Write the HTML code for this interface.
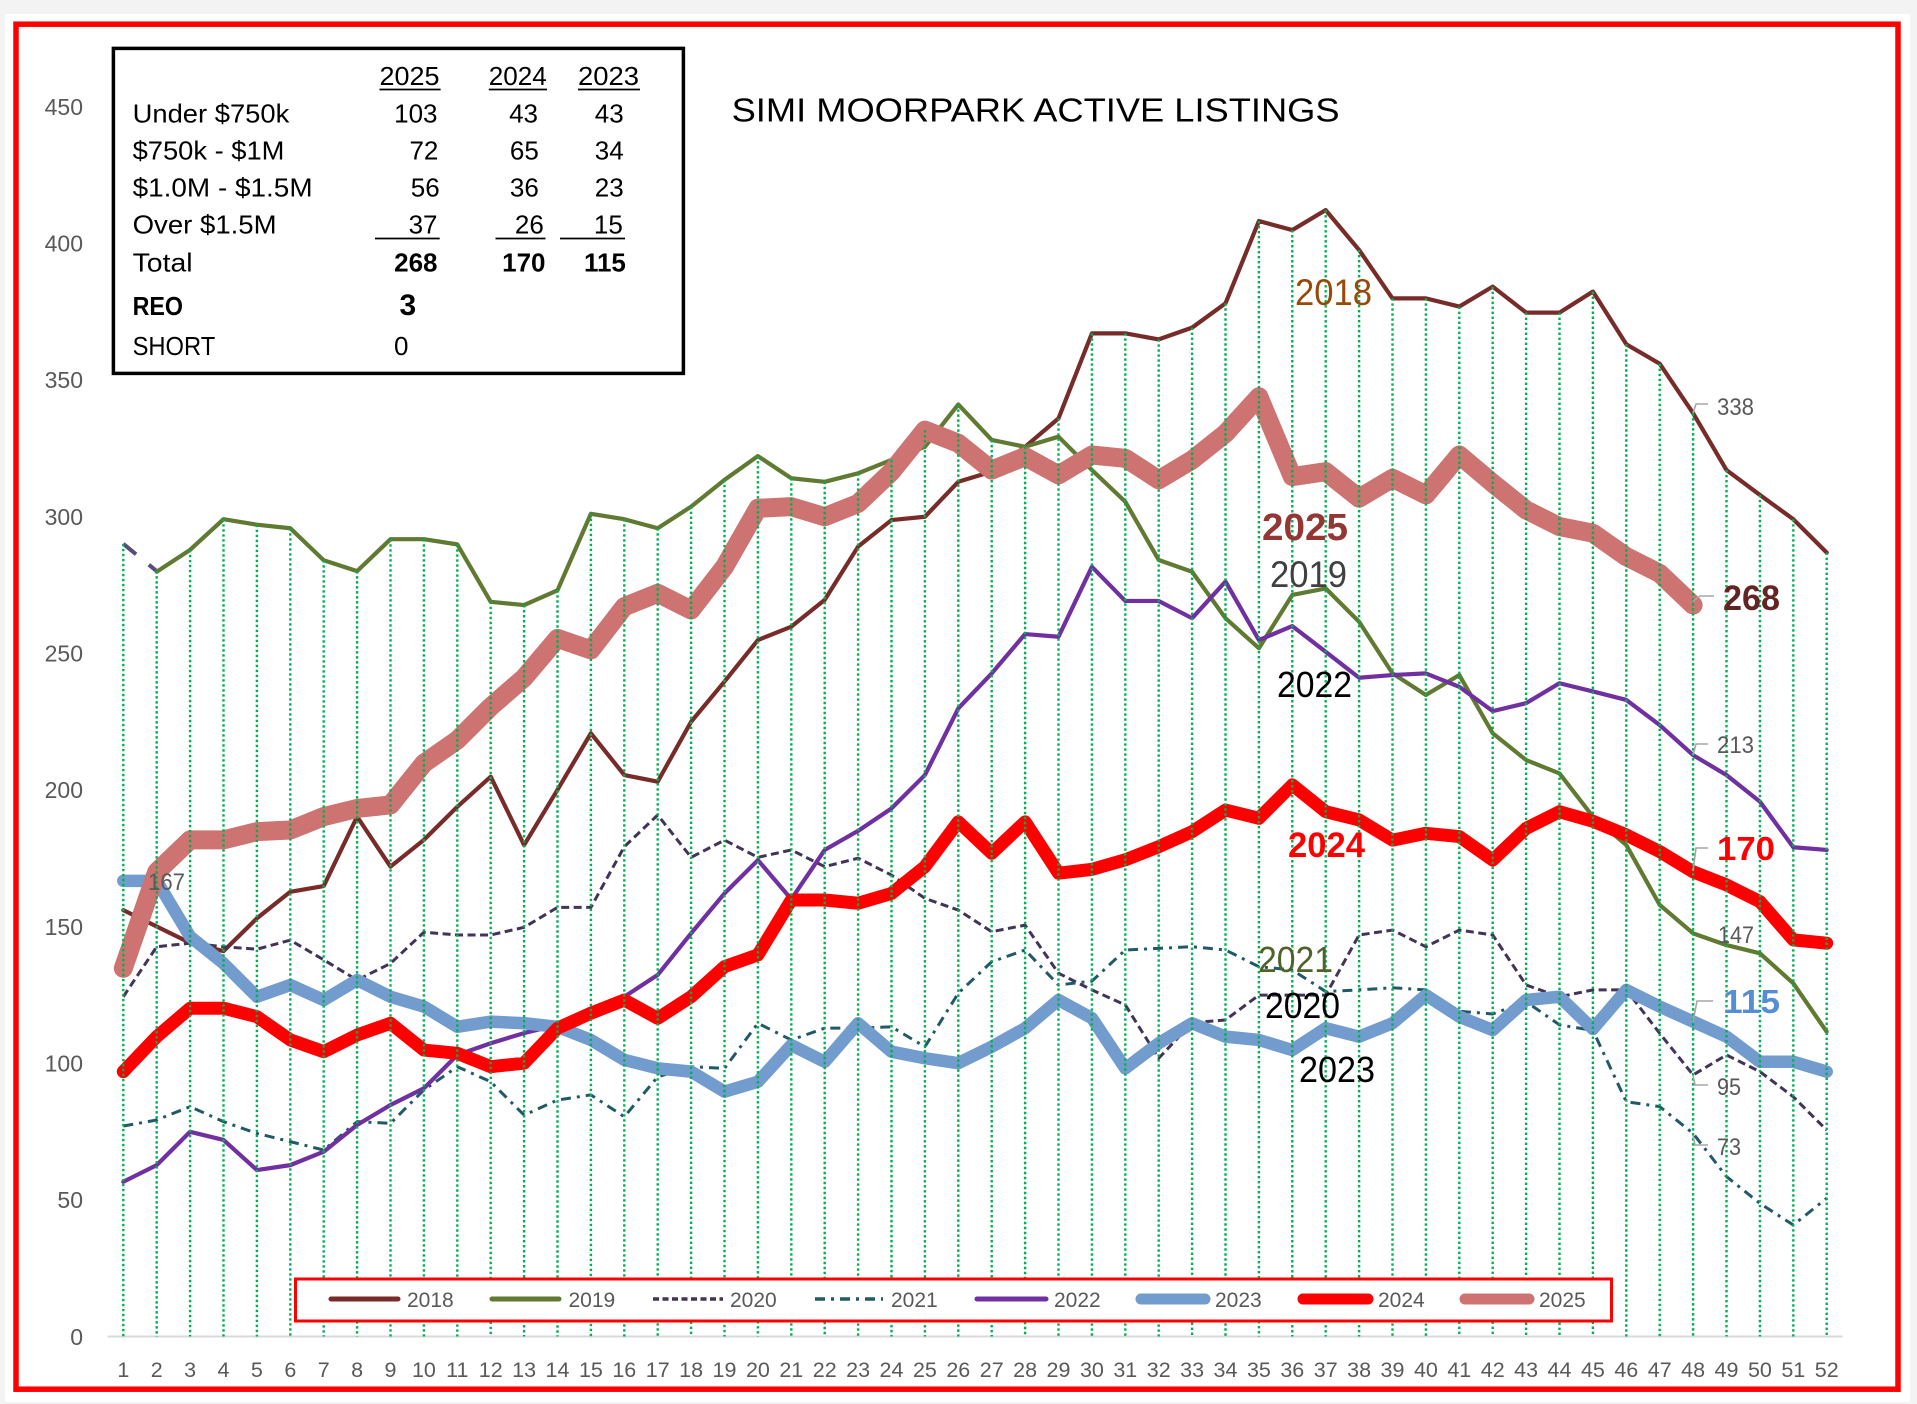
<!DOCTYPE html>
<html><head><meta charset="utf-8"><style>html,body{margin:0;padding:0;background:#F3F3F3;}svg{display:block;font-family:"Liberation Sans",Arial,sans-serif;}</style></head>
<body>
<svg width="1917" height="1404" viewBox="0 0 1917 1404" xmlns="http://www.w3.org/2000/svg">
<rect width="1917" height="1404" fill="#F3F3F3"/>
<rect x="5" y="14" width="1905" height="1388" fill="#FFFFFF"/>
<rect x="16" y="24.2" width="1882" height="1365" fill="none" stroke="#FF0000" stroke-width="5.5"/>

<!-- axis line -->
<line x1="107.6" y1="1336.5" x2="1842.5" y2="1336.5" stroke="#D9D9D9" stroke-width="2"/>

<!-- y labels -->
<g font-size="23" fill="#595959" text-anchor="end">
<text x="83" y="114.8">450</text>
<text x="83" y="251.5">400</text>
<text x="83" y="388.1">350</text>
<text x="83" y="524.8">300</text>
<text x="83" y="661.5">250</text>
<text x="83" y="798.1">200</text>
<text x="83" y="934.8">150</text>
<text x="83" y="1071.5">100</text>
<text x="83" y="1208.1">50</text>
<text x="83" y="1344.8">0</text>
</g>

<!-- x labels -->
<g font-size="21.5" fill="#595959" text-anchor="middle">
<text x="123.3" y="1377">1</text><text x="156.7" y="1377">2</text><text x="190.1" y="1377">3</text><text x="223.5" y="1377">4</text><text x="256.9" y="1377">5</text><text x="290.3" y="1377">6</text><text x="323.7" y="1377">7</text><text x="357.1" y="1377">8</text><text x="390.5" y="1377">9</text><text x="423.9" y="1377">10</text><text x="457.3" y="1377">11</text><text x="490.7" y="1377">12</text><text x="524.1" y="1377">13</text><text x="557.5" y="1377">14</text><text x="590.9" y="1377">15</text><text x="624.3" y="1377">16</text><text x="657.7" y="1377">17</text><text x="691.1" y="1377">18</text><text x="724.5" y="1377">19</text><text x="757.9" y="1377">20</text><text x="791.3" y="1377">21</text><text x="824.7" y="1377">22</text><text x="858.1" y="1377">23</text><text x="891.5" y="1377">24</text><text x="924.9" y="1377">25</text><text x="958.3" y="1377">26</text><text x="991.7" y="1377">27</text><text x="1025.1" y="1377">28</text><text x="1058.5" y="1377">29</text><text x="1091.9" y="1377">30</text><text x="1125.3" y="1377">31</text><text x="1158.7" y="1377">32</text><text x="1192.1" y="1377">33</text><text x="1225.5" y="1377">34</text><text x="1258.9" y="1377">35</text><text x="1292.3" y="1377">36</text><text x="1325.7" y="1377">37</text><text x="1359.1" y="1377">38</text><text x="1392.5" y="1377">39</text><text x="1425.9" y="1377">40</text><text x="1459.3" y="1377">41</text><text x="1492.7" y="1377">42</text><text x="1526.1" y="1377">43</text><text x="1559.5" y="1377">44</text><text x="1592.9" y="1377">45</text><text x="1626.3" y="1377">46</text><text x="1659.7" y="1377">47</text><text x="1693.1" y="1377">48</text><text x="1726.5" y="1377">49</text><text x="1759.9" y="1377">50</text><text x="1793.3" y="1377">51</text><text x="1826.7" y="1377">52</text>
</g>

<!-- series -->
<g transform="translate(123.3,1336.5) scale(33.4,-2.73333)" fill="none" stroke-linejoin="round" stroke-linecap="round">
<polyline vector-effect="non-scaling-stroke" stroke="#772C2A" stroke-width="4.2" points="0,156 1,150 2,144 3,141 4,153 5,162.7 6,164.8 7,190.2 8,171.9 9,181.7 10,193.8 11,204.8 12,179.8 13,200 14,220.7 15,205.4 16,203 17,224.9 18,239.6 19,254.8 20,259.7 21,269.5 22,289 23,298.7 24,299.9 25,312.7 26,316.4 27,325.5 28,335.9 29,367 30,367 31,364.8 32,369.1 33,378 34,408.1 35,404.8 36,412.1 37,397.5 38,379.8 39,379.8 40,376.8 41,384.1 42,374.6 43,374.6 44,382.3 45,363 46,355.9 47,337.8 48,317 49,307.9 50,299 51,286.8"/>
<polyline vector-effect="non-scaling-stroke" stroke="#5A4A80" stroke-width="4" stroke-linecap="butt" stroke-dasharray="16.5 16.5" points="0,290 1,280"/>
<polyline vector-effect="non-scaling-stroke" stroke="#617A32" stroke-width="4.2" points="1,279.8 2,287.8 3,299 4,297 5,295.7 6,284 7,280 8,291.7 9,291.7 10,289.8 11,268.8 12,267.6 13,273 14,301 15,299 16,295.7 17,303.6 18,313.4 19,322.1 20,314 21,312.7 22,315.8 23,320.7 24,325.5 25,341 26,328 27,325.5 28,329.2 29,317 30,305.4 31,284.1 32,279.8 33,262.8 34,251.8 35,271.3 36,273.7 37,261.5 38,242.6 39,234.7 40,242 41,220.7 42,210.9 43,206 44,190.2 45,179.8 46,157.9 47,147.5 48,143.2 49,140.2 50,129.2 51,111.5"/>
<polyline vector-effect="non-scaling-stroke" stroke="#433356" stroke-width="3" stroke-linecap="butt" stroke-dasharray="8 4.5" points="0,124.3 1,142.6 2,143.9 3,142.6 4,141.7 5,145 6,137.8 7,130.4 8,136.5 9,147.9 10,146.9 11,146.9 12,149.7 13,157 14,157 15,179.2 16,190.8 17,175.3 18,181.6 19,175.3 20,178 21,171.9 22,175 23,168.8 24,160.3 25,156 26,148.1 27,150.5 28,132.9 29,126.8 30,121.3 31,101.8 32,114.8 33,115.8 34,124.9 35,124.9 36,124.9 37,146.9 38,148.7 39,142.6 40,148.7 41,146.9 42,128.6 43,124.3 44,126.8 45,126.8 46,110.9 47,95.7 48,103 49,96.9 50,87.7 51,75.5"/>
<polyline vector-effect="non-scaling-stroke" stroke="#215968" stroke-width="3" stroke-linecap="butt" stroke-dasharray="10 6 3 6" points="0,77 1,79.2 2,84.1 3,78.6 4,74.3 5,71.3 6,68.2 7,78.6 8,78 9,90.2 10,98.7 11,93.2 12,81 13,86.5 14,88.4 15,80.4 16,95 17,98.7 18,98.1 19,114.6 20,108.5 21,112.8 22,112.8 23,113.3 24,106 25,125.6 26,137.1 27,141.4 28,128.6 29,130 30,141.4 31,142 32,142.6 33,141.4 34,135.3 35,134.1 36,126.2 37,126.8 38,127.6 39,126.8 40,119 41,118 42,122.5 43,114 44,112 45,85.9 46,84.1 47,74.3 48,58.5 49,48.7 50,40.8 51,50.6"/>
<polyline vector-effect="non-scaling-stroke" stroke="#7030A0" stroke-width="4.2" points="0,56.6 1,62.7 2,74.9 3,71.9 4,60.9 5,62.7 6,67.6 7,77.4 8,84.7 9,90.8 10,103 11,107.3 12,111 13,114 14,118 15,124.3 16,132.3 17,147.5 18,162.1 19,174.3 20,160 21,178 22,185 23,193.2 24,205.4 25,229.8 26,242.6 27,257 28,256 29,281.6 30,269.1 31,269.1 32,262.8 33,276.2 34,254.8 35,259.9 36,250.5 37,241 38,242 39,242.6 40,237.7 41,228.8 42,231.7 43,239 44,236 45,232.9 46,223.7 47,212.7 48,205.4 49,195.7 50,179 51,178"/>
<polyline vector-effect="non-scaling-stroke" stroke="#729BCE" stroke-width="12.5" points="0,166.7 1,166.7 2,146.3 3,136.5 4,124.3 5,128.6 6,123.1 7,130.4 8,124.3 9,120.7 10,113.3 11,115.2 12,114.6 13,113.3 14,108.5 15,101.2 16,98.1 17,96.9 18,89.6 19,93.2 20,106.6 21,100.5 22,114.6 23,104.2 24,101.8 25,100 26,106 27,112.8 28,123.1 29,116.5 30,98.1 31,107.3 32,114.6 33,109.7 34,108.5 35,104.8 36,112.8 37,109.7 38,114.6 39,124.9 40,117 41,112.1 42,123.1 43,124.3 44,112.5 45,126.8 46,120.7 47,115.2 48,109.7 49,100.5 50,100.5 51,96.9"/>
<polyline vector-effect="non-scaling-stroke" stroke="#FF0000" stroke-width="13" points="0,96.9 1,109.7 2,120.1 3,120.1 4,117 5,108.5 6,104.2 7,110.3 8,114.6 9,104.8 10,103.6 11,98.7 12,100 13,112.8 14,118.3 15,123.1 16,116.4 17,124.3 18,135.3 19,139.6 20,159.7 21,159.7 22,158.5 23,162.1 24,171.9 25,188.3 26,176.8 27,188.3 28,169.5 29,170.9 30,174.4 31,179.2 32,184.7 33,192.6 34,189.6 35,201.8 36,192 37,189 38,181.6 39,184.1 40,182.9 41,174.3 42,185.9 43,192 44,188.5 45,183.5 46,177.4 47,170 48,165.2 49,159.1 50,145.1 51,143.9"/>
<polyline vector-effect="non-scaling-stroke" stroke="#CD7371" stroke-width="19" points="0,134.7 1,170 2,181.7 3,181.7 4,184.7 5,185.3 6,190.2 7,193.2 8,194.5 9,209.7 10,218.2 11,230.4 12,241 13,255.4 14,251.2 15,267 16,271.9 17,265.8 18,281.6 19,303 20,303.6 21,299.9 22,304.8 23,316.4 24,331.6 25,326.8 26,317 27,321.9 28,315.2 29,322.5 30,321.3 31,313.4 32,320.7 33,330.4 34,343.8 35,314.6 36,316.4 37,306.7 38,314 39,307.9 40,322.5 41,312.2 42,302.4 43,296.3 44,293.9 45,285.3 46,279.2 47,267.6"/>
<path vector-effect="non-scaling-stroke" stroke="#00B050" stroke-width="2.4" stroke-linecap="butt" stroke-dasharray="2.4 2.6" d="M0 290V0M1 280V0M2 287.8V0M3 299V0M4 297V0M5 295.7V0M6 284V0M7 280V0M8 291.7V0M9 291.7V0M10 289.8V0M11 268.8V0M12 267.6V0M13 273V0M14 301V0M15 299V0M16 295.7V0M17 303.6V0M18 313.4V0M19 322.1V0M20 314V0M21 312.7V0M22 315.8V0M23 320.7V0M24 331.6V0M25 341V0M26 328V0M27 325.5V0M28 335.9V0M29 367V0M30 367V0M31 364.8V0M32 369.1V0M33 378V0M34 408.1V0M35 404.8V0M36 412.1V0M37 397.5V0M38 379.8V0M39 379.8V0M40 376.8V0M41 384.1V0M42 374.6V0M43 374.6V0M44 382.3V0M45 363V0M46 355.9V0M47 337.8V0M48 317V0M49 307.9V0M50 299V0M51 286.8V0"/>
</g>

<!-- leader lines -->
<g fill="none" stroke="#A6A6A6" stroke-width="1.6">
<polyline points="1693,413 1696,404 1708,404"/>
<polyline points="1693,601 1700,596 1714,596"/>
<polyline points="1693,755 1696,744 1708,744"/>
<polyline points="1693,871 1696,848 1708,848"/>
<polyline points="1693,1022 1697,1001 1713,1001"/>
<polyline points="1693,1075 1695,1085 1708,1085"/>
<polyline points="1693,1135 1695,1145 1708,1145"/>
</g>

<!-- data labels -->
<g font-size="24" fill="#595959">
<text x="148" y="890" textLength="37" lengthAdjust="spacingAndGlyphs">167</text>
<text x="1717" y="415" textLength="37" lengthAdjust="spacingAndGlyphs">338</text>
<text x="1717" y="753" textLength="37" lengthAdjust="spacingAndGlyphs">213</text>
<text x="1718" y="943" textLength="36" lengthAdjust="spacingAndGlyphs">147</text>
<text x="1717" y="1095" textLength="24" lengthAdjust="spacingAndGlyphs">95</text>
<text x="1717" y="1155" textLength="24" lengthAdjust="spacingAndGlyphs">73</text>
</g>
<text x="1723" y="610" font-size="35" font-weight="bold" fill="#632523" textLength="57" lengthAdjust="spacingAndGlyphs">268</text>
<text x="1717" y="860" font-size="33" font-weight="bold" fill="#FF0000" textLength="58" lengthAdjust="spacingAndGlyphs">170</text>
<text x="1723" y="1013" font-size="33" font-weight="bold" fill="#558ED5" textLength="57" lengthAdjust="spacingAndGlyphs">115</text>

<!-- series name labels -->
<text x="1295" y="305" font-size="37" fill="#984807" textLength="77" lengthAdjust="spacingAndGlyphs">2018</text>
<text x="1262" y="540" font-size="38" font-weight="bold" fill="#943634" textLength="86" lengthAdjust="spacingAndGlyphs">2025</text>
<text x="1270" y="587" font-size="37" fill="#404040" textLength="77" lengthAdjust="spacingAndGlyphs">2019</text>
<text x="1277" y="697" font-size="36" fill="#000000" textLength="75" lengthAdjust="spacingAndGlyphs">2022</text>
<text x="1288" y="857" font-size="35" font-weight="bold" fill="#FF0000" textLength="77" lengthAdjust="spacingAndGlyphs">2024</text>
<text x="1258" y="972" font-size="36" fill="#4F6228" textLength="75" lengthAdjust="spacingAndGlyphs">2021</text>
<text x="1265" y="1018" font-size="36" fill="#000000" textLength="75" lengthAdjust="spacingAndGlyphs">2020</text>
<text x="1299" y="1082" font-size="36" fill="#000000" textLength="76" lengthAdjust="spacingAndGlyphs">2023</text>

<!-- title -->
<text x="731.6" y="121.7" font-size="33" fill="#000000" textLength="608" lengthAdjust="spacingAndGlyphs">SIMI MOORPARK ACTIVE LISTINGS</text>

<!-- table box -->
<rect x="113.4" y="48.4" width="570" height="325" fill="#FFFFFF" stroke="#000000" stroke-width="3.5"/>
<g font-size="26" fill="#000000">
<text x="379.5" y="85" textLength="60" lengthAdjust="spacingAndGlyphs">2025</text>
<text x="488.8" y="85" textLength="58" lengthAdjust="spacingAndGlyphs">2024</text>
<text x="578" y="85" textLength="61" lengthAdjust="spacingAndGlyphs">2023</text>
<text x="132.6" y="122.7" textLength="156.7" lengthAdjust="spacingAndGlyphs">Under $750k</text>
<text x="132.6" y="159.3" textLength="151.8" lengthAdjust="spacingAndGlyphs">$750k - $1M</text>
<text x="132.6" y="196.7" textLength="180" lengthAdjust="spacingAndGlyphs">$1.0M - $1.5M</text>
<text x="132.6" y="233.3" textLength="144" lengthAdjust="spacingAndGlyphs">Over $1.5M</text>
<text x="132.6" y="271.7" textLength="60" lengthAdjust="spacingAndGlyphs">Total</text>
<text x="132.6" y="315" font-weight="bold" textLength="50.4" lengthAdjust="spacingAndGlyphs">REO</text>
<text x="132.6" y="355" textLength="82.6" lengthAdjust="spacingAndGlyphs">SHORT</text>
</g>
<g font-size="26" fill="#000000" text-anchor="end">
<text x="437.5" y="122.7">103</text><text x="538" y="122.7">43</text><text x="623.7" y="122.7">43</text>
<text x="438.4" y="159.3">72</text><text x="538.8" y="159.3">65</text><text x="623.7" y="159.3">34</text>
<text x="439.7" y="196.7">56</text><text x="538.8" y="196.7">36</text><text x="623.7" y="196.7">23</text>
<text x="437.5" y="233.3">37</text><text x="543.8" y="233.3">26</text><text x="622.8" y="233.3">15</text>
<g font-weight="bold"><text x="437.5" y="271.7">268</text><text x="545.5" y="271.7">170</text><text x="625.9" y="271.7">115</text></g>
</g>
<text x="399.5" y="315" font-size="30" font-weight="bold" fill="#000000">3</text>
<text x="394" y="355" font-size="26" fill="#000000">0</text>
<g stroke="#000000" stroke-width="1.8">
<line x1="379.5" y1="89.5" x2="440.6" y2="89.5"/>
<line x1="488.8" y1="89.5" x2="547" y2="89.5"/>
<line x1="578" y1="89.5" x2="640" y2="89.5"/>
<line x1="375" y1="238.5" x2="439.7" y2="238.5"/>
<line x1="495.5" y1="238.5" x2="545.5" y2="238.5"/>
<line x1="560" y1="238.5" x2="625" y2="238.5"/>
</g>

<!-- legend -->
<rect x="295.5" y="1279" width="1316" height="42" fill="#FFFFFF" stroke="#FF0000" stroke-width="3"/>
<g fill="none">
<line x1="331" y1="1299" x2="398" y2="1299" stroke="#772C2A" stroke-width="5" stroke-linecap="round"/>
<line x1="492" y1="1299" x2="559" y2="1299" stroke="#617A32" stroke-width="5" stroke-linecap="round"/>
<line x1="653" y1="1299" x2="723" y2="1299" stroke="#433356" stroke-width="3.5" stroke-dasharray="6 3.5"/>
<line x1="815" y1="1299" x2="883" y2="1299" stroke="#215968" stroke-width="3.5" stroke-dasharray="10 6 3 6"/>
<line x1="977" y1="1299" x2="1046" y2="1299" stroke="#7030A0" stroke-width="5" stroke-linecap="round"/>
<line x1="1141" y1="1299" x2="1205" y2="1299" stroke="#729BCE" stroke-width="11" stroke-linecap="round"/>
<line x1="1303" y1="1299" x2="1368" y2="1299" stroke="#FF0000" stroke-width="11" stroke-linecap="round"/>
<line x1="1465" y1="1299" x2="1529" y2="1299" stroke="#CD7371" stroke-width="11" stroke-linecap="round"/>
</g>
<g font-size="21" fill="#595959">
<text x="407" y="1307">2018</text>
<text x="568.5" y="1307">2019</text>
<text x="730" y="1307">2020</text>
<text x="891" y="1307">2021</text>
<text x="1054" y="1307">2022</text>
<text x="1215" y="1307">2023</text>
<text x="1378" y="1307">2024</text>
<text x="1539" y="1307">2025</text>
</g>
</svg>
</body></html>
